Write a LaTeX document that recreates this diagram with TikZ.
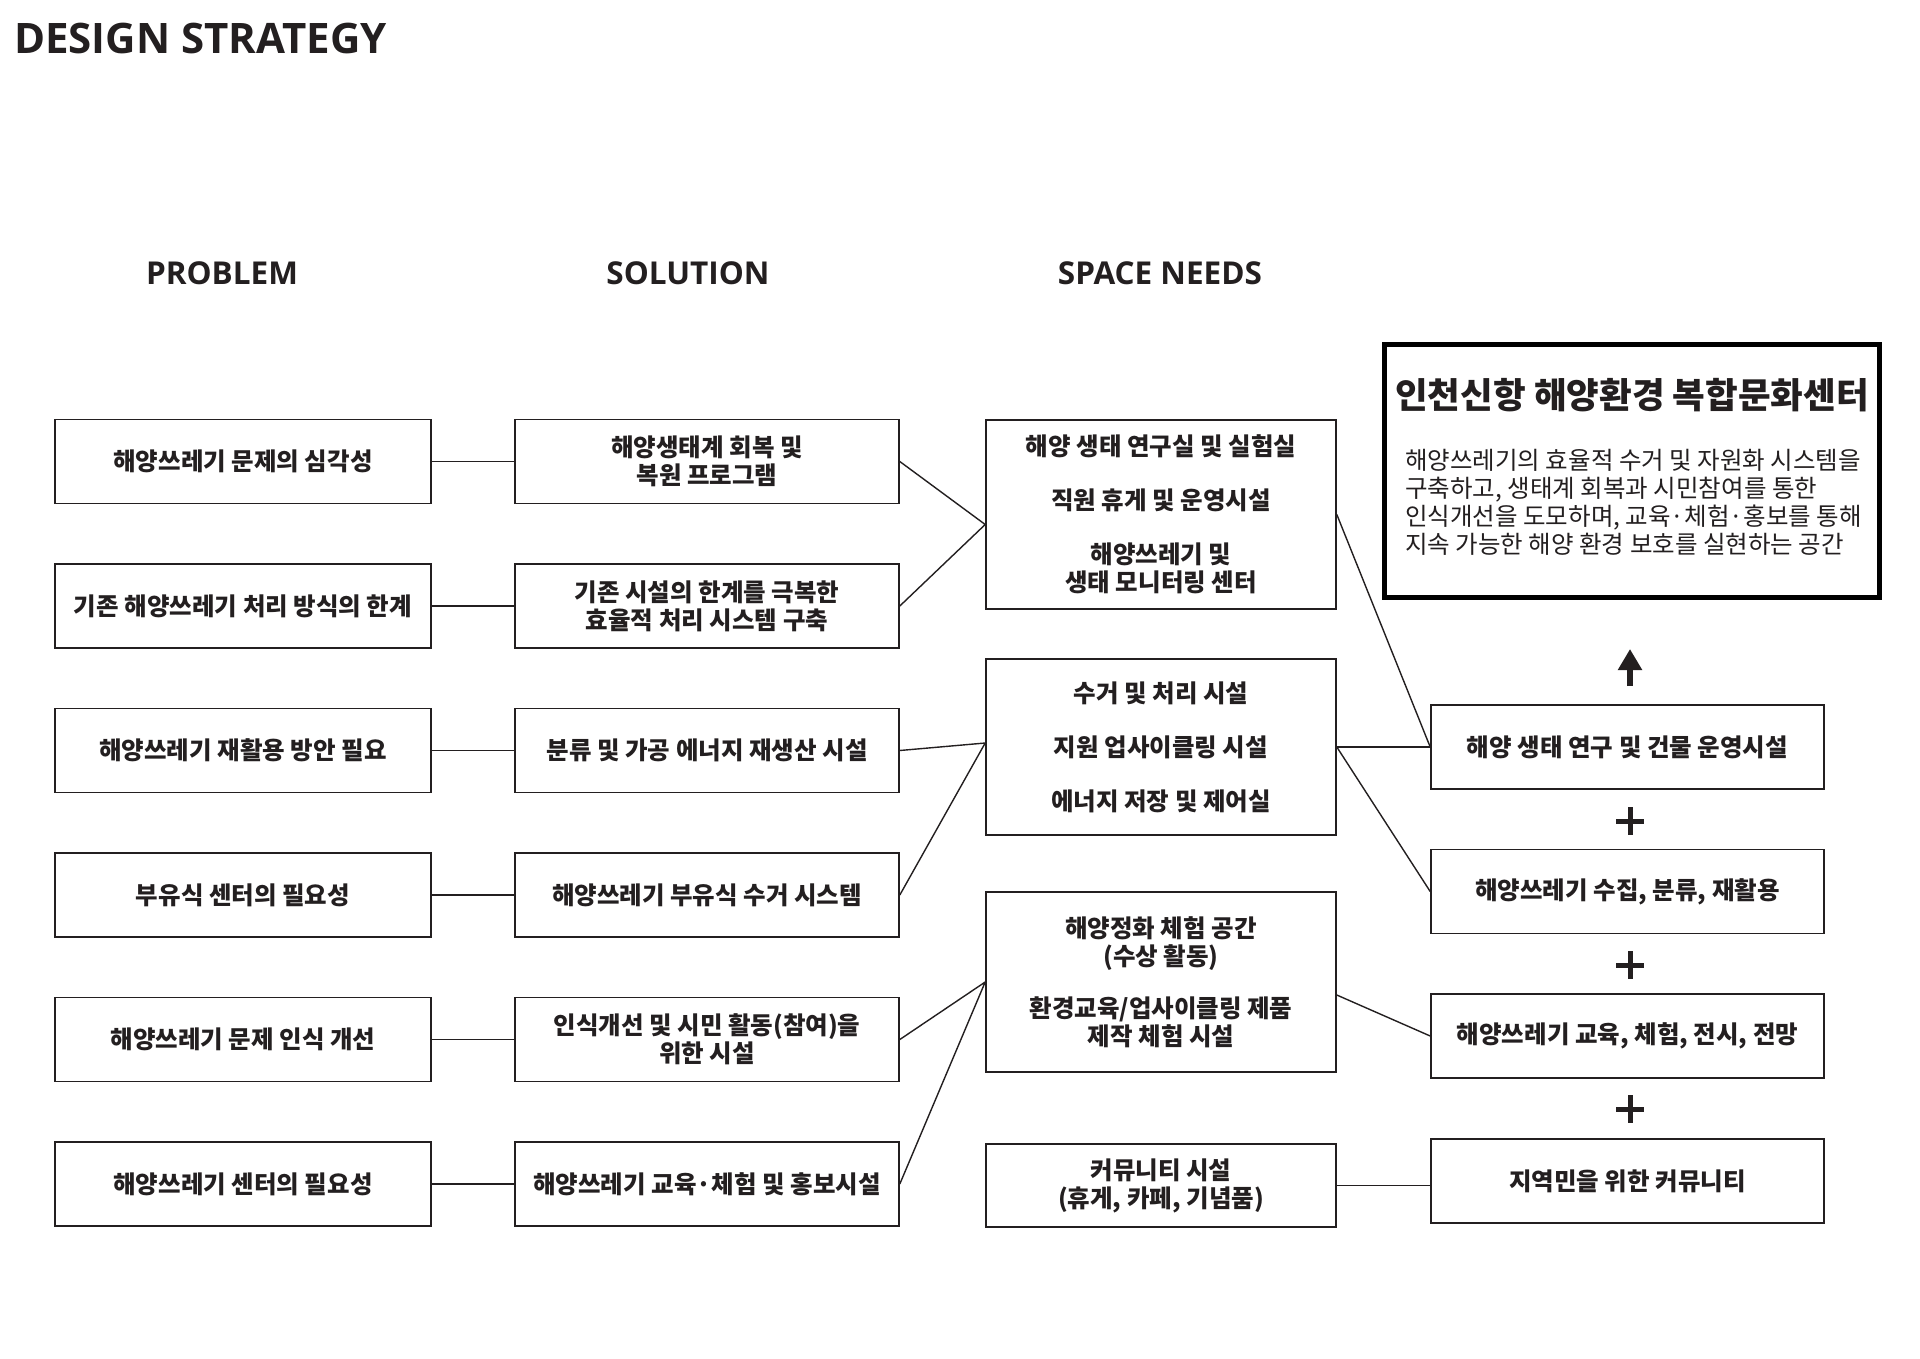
\documentclass[tikz,border=0pt]{standalone}
\usepackage{fontspec}
\setmainfont{Open Sans}
\newfontfamily\krfont{Noto Sans CJK KR}
\usetikzlibrary{calc, arrows.meta}
\definecolor{inchiostro}{RGB}{35,31,32}

\begin{document}
\begin{tikzpicture}[x=1pt, y=-1pt,
  every node/.style={text=inchiostro, inner sep=0pt},
  box/.style={draw=inchiostro, line width=1.6pt, align=center, minimum height=84pt,
    font=\krfont\bfseries\fontsize{24.5}{28}\selectfont},
  probbox/.style={box, minimum width=376pt},
  solbox/.style={box, minimum width=384pt},
  needbox/.style={box, minimum width=350pt},
  resbox/.style={box, minimum width=393pt},
  link/.style={draw=inchiostro, line width=1.4pt},
  colhead/.style={anchor=base, font=\bfseries\fontsize{31.5}{36}\selectfont}]

  % area della tavola
  \fill[white] (0,0) rectangle (1920,1358);
  \useasboundingbox (0,0) rectangle (1920,1358);

  % titolo
  \node[anchor=base west, font=\bfseries\fontsize{42}{48}\selectfont] (titolo) at (14,53) {DESIGN STRATEGY};

  % intestazioni delle colonne
  \node[colhead] (hprob) at (222,284) {PROBLEM};
  \node[colhead] (hsol) at (688,284) {SOLUTION};
  \node[colhead] (hneed) at (1160,284) {SPACE NEEDS};

  % problemi
  \node[probbox] (p1) at (243,461.5) {해양쓰레기 문제의 심각성};
  \node[probbox] (p2) at (243,606) {기존 해양쓰레기 처리 방식의 한계};
  \node[probbox] (p3) at (243,750.5) {해양쓰레기 재활용 방안 필요};
  \node[probbox] (p4) at (243,895) {부유식 센터의 필요성};
  \node[probbox] (p5) at (243,1039.5) {해양쓰레기 문제 인식 개선};
  \node[probbox] (p6) at (243,1184) {해양쓰레기 센터의 필요성};

  % soluzioni
  \node[solbox] (s1) at (707,461.5) {해양생태계 회복 및\\복원 프로그램};
  \node[solbox] (s2) at (707,606) {기존 시설의 한계를 극복한\\효율적 처리 시스템 구축};
  \node[solbox] (s3) at (707,750.5) {분류 및 가공 에너지 재생산 시설};
  \node[solbox] (s4) at (707,895) {해양쓰레기 부유식 수거 시스템};
  \node[solbox] (s5) at (707,1039.5) {인식개선 및 시민 활동(참여)을\\위한 시설};
  \node[solbox] (s6) at (707,1184) {해양쓰레기 교육·체험 및 홍보시설};

  % spazi richiesti
  \node[needbox, minimum height=189pt] (n1) at (1161,514.5)
    {해양 생태 연구실 및 실험실\\[26pt]직원 휴게 및 운영시설\\[26pt]해양쓰레기 및\\생태 모니터링 센터};
  \node[needbox, minimum height=176pt] (n2) at (1161,747)
    {수거 및 처리 시설\\[26pt]지원 업사이클링 시설\\[26pt]에너지 저장 및 제어실};
  \node[needbox, minimum height=180pt] (n3) at (1161,982)
    {해양정화 체험 공간\\(수상 활동)\\[24pt]환경교육/업사이클링 제품\\제작 체험 시설};
  \node[needbox, minimum height=83pt] (n4) at (1161,1185.5) {커뮤니티 시설\\(휴게, 카페, 기념품)};

  % risultati
  \node[resbox] (r1) at (1627.5,747) {해양 생태 연구 및 건물 운영시설};
  \node[resbox] (r2) at (1627.5,891.5) {해양쓰레기 수집, 분류, 재활용};
  \node[resbox] (r3) at (1627.5,1036) {해양쓰레기 교육, 체험, 전시, 전망};
  \node[resbox] (r4) at (1627.5,1181) {지역민을 위한 커뮤니티};

  % centro
  \node[draw=black, line width=5pt, minimum width=495pt, minimum height=253pt] (centro) at (1632,471) {};
  \node[anchor=base, font=\krfont\bfseries\fontsize{35.5}{40}\selectfont] (ctitolo) at (1632,408)
    {인천신항 해양환경 복합문화센터};
  \node[anchor=base west, align=left, font=\krfont\fontsize{24.5}{27.7}\selectfont] (ctesto) at (1405,553)
    {해양쓰레기의 효율적 수거 및 자원화 시스템을\\구축하고, 생태계 회복과 시민참여를 통한\\인식개선을 도모하며, 교육·체험·홍보를 통해\\지속 가능한 해양 환경 보호를 실현하는 공간};

  % collegamenti problema - soluzione
  \draw[link] (p1) -- (s1);
  \draw[link] (p2) -- (s2);
  \draw[link] (p3) -- (s3);
  \draw[link] (p4) -- (s4);
  \draw[link] (p5) -- (s5);
  \draw[link] (p6) -- (s6);

  % punti di raccolta
  \coordinate (k1) at ($(n1.west)+(0,10)$);
  \coordinate (k2) at ($(n2.west)+(0,-4)$);
  \coordinate (k3) at (n3.west);
  \coordinate (k4) at ($(n3.east)+(0,13)$);

  % collegamenti soluzione - spazi
  \draw[link] (s1.east) -- (k1) -- (s2.east);
  \draw[link] (s3.east) -- (k2) -- (s4.east);
  \draw[link] (s5.east) -- (k3) -- (s6.east);

  % collegamenti spazi - risultati
  \draw[link] (n1.east) -- (r1.west);
  \draw[link] (n2.east) -- (r1.west);
  \draw[link] (n2.east) -- (r2.west);
  \draw[link] (k4) -- (r3.west);
  \draw[link] (n4.east) -- (n4.east -| r4.west);

  % freccia verso il centro
  \coordinate (fbase) at (1630,686);
  \coordinate (fpunta) at (1630,649);
  \draw[line width=6.5pt, draw=inchiostro, -{Triangle[width=23pt,length=21pt]}] (fbase) -- (fpunta);

  % segni piu
  \draw[line width=5pt, draw=inchiostro] (1616,821) -- (1644,821) (1630,807) -- (1630,835);
  \draw[line width=5pt, draw=inchiostro] (1616,965) -- (1644,965) (1630,951) -- (1630,979);
  \draw[line width=5pt, draw=inchiostro] (1616,1109) -- (1644,1109) (1630,1095) -- (1630,1123);
\end{tikzpicture}
\end{document}
